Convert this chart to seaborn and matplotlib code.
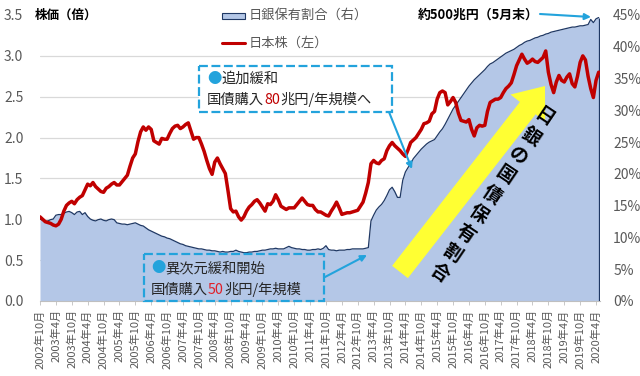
import numpy as np
import pandas as pd
import matplotlib
matplotlib.use("Agg")
import matplotlib.pyplot as plt
from matplotlib.patches import FancyArrow, Rectangle
from matplotlib.lines import Line2D
import seaborn as sns

# ---------------- data (monthly, 2002-10 .. 2020-05) ----------------
start_year, start_month = 2002, 10

stock_index = [  # 日本株 (左, 倍)
    1.03, 1.00, 0.97, 0.96, 0.95, 0.93, 0.92, 0.94, 1.00, 1.10, 1.17, 1.20,
    1.22, 1.19, 1.24, 1.27, 1.29, 1.36, 1.43, 1.41, 1.45, 1.40, 1.37, 1.34,
    1.33, 1.38, 1.40, 1.43, 1.45, 1.42, 1.42, 1.46, 1.50, 1.54, 1.65, 1.75,
    1.80, 1.95, 2.07, 2.13, 2.09, 2.13, 2.10, 1.96, 1.94, 1.92, 1.99, 1.98,
    1.98, 2.05, 2.11, 2.14, 2.15, 2.11, 2.13, 2.16, 2.18, 2.08, 1.98, 2.00,
    2.00, 1.92, 1.83, 1.72, 1.62, 1.55, 1.70, 1.75, 1.68, 1.62, 1.56, 1.35,
    1.13, 1.09, 1.10, 1.03, 0.99, 1.03, 1.10, 1.15, 1.18, 1.22, 1.24, 1.20,
    1.15, 1.10, 1.19, 1.18, 1.22, 1.30, 1.24, 1.16, 1.14, 1.12, 1.14, 1.14,
    1.14, 1.18, 1.22, 1.26, 1.22, 1.18, 1.17, 1.17, 1.12, 1.09, 1.09, 1.07,
    1.05, 1.04, 1.10, 1.15, 1.21, 1.14, 1.06, 1.07, 1.08, 1.08, 1.09, 1.10,
    1.11, 1.16, 1.21, 1.32, 1.45, 1.68, 1.72, 1.69, 1.68, 1.72, 1.74, 1.84,
    1.90, 1.94, 1.90, 1.87, 1.84, 1.80, 1.77, 1.85, 1.94, 1.97, 2.00, 2.05,
    2.10, 2.17, 2.18, 2.20, 2.29, 2.32, 2.47, 2.55, 2.57, 2.55, 2.40, 2.44,
    2.49, 2.43, 2.30, 2.21, 2.20, 2.19, 2.22, 2.10, 2.02, 2.12, 2.15, 2.14,
    2.15, 2.32, 2.43, 2.45, 2.47, 2.47, 2.49, 2.55, 2.60, 2.63, 2.67, 2.77,
    2.88, 2.95, 3.02, 2.96, 2.91, 2.93, 2.96, 2.93, 2.92, 2.95, 2.98, 3.06,
    2.80, 2.65, 2.55, 2.68, 2.76, 2.70, 2.68, 2.74, 2.78, 2.66, 2.62, 2.75,
    2.92, 3.00, 2.95, 2.75, 2.60, 2.49, 2.70, 2.80,
]

boj_share = [  # 日銀保有割合 (右, %)
    12.9, 12.7, 12.5, 12.6, 12.8, 12.9, 13.5, 13.6, 13.6, 13.8, 14.0, 14.1,
    13.9, 13.6, 14.0, 14.1, 13.6, 13.9, 13.3, 12.9, 12.7, 12.6, 12.8, 12.9,
    12.7, 12.6, 12.8, 12.9, 12.8, 12.3, 12.2, 12.1, 12.1, 12.0, 12.1, 12.2,
    12.3, 12.1, 11.9, 11.8, 11.5, 11.2, 11.0, 10.8, 10.6, 10.4, 10.2, 10.1,
    9.9, 9.8, 9.6, 9.4, 9.2, 9.0, 8.9, 8.7, 8.6, 8.5, 8.4, 8.3,
    8.2, 8.2, 8.1, 8.0, 8.0, 7.9, 7.9, 7.8, 7.7, 7.8, 7.7, 7.7,
    7.8, 7.8, 8.0, 7.8, 7.7, 7.6, 7.6, 7.7, 7.7, 7.8, 7.8, 7.9,
    8.0, 8.0, 8.1, 8.2, 8.2, 8.3, 8.2, 8.2, 8.2, 8.4, 8.6, 8.4,
    8.3, 8.2, 8.2, 8.1, 8.1, 8.0, 8.0, 8.1, 8.1, 8.2, 8.1, 8.3,
    8.7, 8.1, 8.0, 8.0, 7.9, 8.0, 8.0, 8.0, 8.1, 8.1, 8.2, 8.2,
    8.2, 8.2, 8.2, 8.3, 8.4, 12.6, 13.5, 14.3, 14.8, 15.2, 15.8, 16.6,
    17.5, 17.9, 17.2, 16.3, 16.3, 19.0, 20.3, 21.0, 21.6, 22.4, 22.9, 23.4,
    23.9, 24.3, 24.7, 25.0, 25.2, 25.4, 26.0, 26.6, 27.1, 27.8, 28.6, 29.4,
    30.2, 30.8, 31.4, 32.0, 32.6, 33.2, 33.8, 34.3, 34.8, 35.2, 35.6, 36.0,
    36.4, 36.9, 37.3, 37.5, 37.8, 38.1, 38.4, 38.7, 39.0, 39.2, 39.4, 39.6,
    39.9, 40.2, 40.4, 40.7, 40.9, 41.0, 41.2, 41.4, 41.5, 41.7, 41.8, 42.0,
    42.1, 42.3, 42.4, 42.5, 42.6, 42.7, 42.8, 42.9, 43.0, 43.1, 43.1, 43.2,
    43.3, 43.3, 43.4, 43.5, 44.3, 43.8, 44.4, 44.6,
]

left_ticks = [0.0, 0.5, 1.0, 1.5, 2.0, 2.5, 3.0, 3.5]
right_ticks = [0, 5, 10, 15, 20, 25, 30, 35, 40, 45]

n = len(stock_index)
months = np.arange(n)
df = pd.DataFrame({"m": months, "stock": stock_index, "share": boj_share})

tick_pos = list(range(0, n, 6))
tick_labels = []
for p in tick_pos:
    tot = start_month - 1 + p
    tick_labels.append(f"{start_year + tot // 12}年{tot % 12 + 1}月")

# ---------------- styling ----------------
sns.set_theme(style="white")
plt.rcParams["font.family"] = ["Noto Sans CJK JP", "DejaVu Sans"]

W, H = 640, 376
fig = plt.figure(figsize=(W / 100, H / 100), dpi=100)
fig.patch.set_facecolor("white")

L, R, T, B = 40, 600, 11, 301
px_per_unit = (B - 15) / 3.5
ymax_left = (B - T) / px_per_unit
ymax_right = ymax_left / 3.5 * 45

ax = fig.add_axes([L / W, 1 - B / H, (R - L) / W, (B - T) / H])
ax2 = ax.twinx()
ax.set_zorder(2)
ax.patch.set_visible(False)
ax2.set_zorder(1)

AREA_FILL = "#b4c7e7"
AREA_EDGE = "#1f3864"
RED = "#c00000"
BLUE = "#23a3dc"
GREY = "#595959"

# area (right axis)
ax2.fill_between(df["m"], 0, df["share"], color=AREA_FILL, lw=0, zorder=2)
sns.lineplot(data=df, x="m", y="share", ax=ax2, color=AREA_EDGE, lw=0.9, zorder=3)
ax2.vlines(df["m"].iloc[-1], 0, df["share"].iloc[-1], color=AREA_EDGE, lw=0.9, zorder=3)

# stock line (left axis)
sns.lineplot(data=df, x="m", y="stock", ax=ax, color=RED, lw=2.5, zorder=4)

ax.set_xlim(0, n - 0.5)
ax.set_ylim(0, ymax_left)
ax2.set_ylim(0, ymax_right)
ax.set_xlabel("")
ax.set_ylabel("")
ax2.set_ylabel("")

ax.set_yticks(left_ticks)
ax.set_yticklabels([f"{v:.1f}" for v in left_ticks])
ax.tick_params(axis="y", length=0, pad=12, labelsize=10, labelcolor=GREY)

ax2.set_yticks(right_ticks)
ax2.set_yticklabels([f"{v}%" for v in right_ticks])
ax2.tick_params(axis="y", which="major", length=0, pad=9.5, labelsize=10, labelcolor=GREY)
ax2.set_yticks([v / 3.5 * 45 for v in left_ticks], minor=True)
ax2.tick_params(axis="y", which="minor", length=0)
ax2.yaxis.grid(True, which="minor", color="#d9d9d9", lw=0.9)
ax2.yaxis.grid(False, which="major")
ax2.set_axisbelow(True)

ax.set_xticks(tick_pos)
ax.set_xticklabels(tick_labels, rotation=90)
ax.tick_params(axis="x", length=3, width=0.6, color="#bfbfbf", pad=3,
               labelsize=8, labelcolor=GREY, bottom=True)

for a in (ax, ax2):
    for s in a.spines.values():
        s.set_visible(False)
ax.spines["bottom"].set_visible(True)
ax.spines["bottom"].set_color("#bfbfbf")
ax.spines["bottom"].set_linewidth(0.8)

# ---------------- overlay (pixel coordinates) ----------------
ov = fig.add_axes([0, 0, 1, 1], zorder=10)
ov.set_xlim(0, W)
ov.set_ylim(H, 0)
ov.axis("off")
ov.patch.set_visible(False)

# y-axis title
ov.text(35, 15, "株価（倍）", fontsize=9, fontweight="bold", color="black",
        ha="left", va="center",
        bbox=dict(boxstyle="square,pad=0.15", fc="white", ec="none"))

# legend
ov.add_patch(Rectangle((216, 6), 152, 18, fc="white", ec="none", zorder=1))
ov.add_patch(Rectangle((222, 12.5), 23, 6, fc=AREA_FILL, ec=AREA_EDGE, lw=0.8, zorder=2))
ov.text(249, 15, "日銀保有割合（右）", fontsize=9.5, color=GREY, ha="left", va="center", zorder=3)
ov.add_line(Line2D([222, 245], [43, 43], color=RED, lw=2.2, zorder=2))
ov.text(249, 43, "日本株（左）", fontsize=9.5, color=GREY, ha="left", va="center", zorder=3)

# 約500兆円
ov.text(418, 15, "約500兆円（5月末）", fontsize=9.3, fontweight="bold", color="black",
        ha="left", va="center",
        bbox=dict(boxstyle="square,pad=0.15", fc="white", ec="none"))
ov.annotate("", xy=(591, 17), xytext=(540, 14),
            arrowprops=dict(arrowstyle="-|>", color=BLUE, lw=1.5,
                            mutation_scale=9, shrinkA=0, shrinkB=0))


def rich_text(x, y, parts, size=10):
    t = ov.text(x, y, parts[0][0], color=parts[0][1], fontsize=size,
                ha="left", va="center", zorder=5)
    for s, c in parts[1:]:
        t = ov.annotate(s, xy=(1, 0), xycoords=t, va="bottom", ha="left",
                        color=c, fontsize=size, zorder=5, annotation_clip=False)
    return t


# box 1 (異次元緩和開始)
ov.add_patch(Rectangle((144, 254), 180, 46.5, fc="none", ec=BLUE, lw=1.6,
                       ls=(0, (4, 1.6)), zorder=4))
rich_text(151, 268, [("●", BLUE), ("異次元緩和開始", "#262626")], size=10.3)
rich_text(151, 290, [("国債購入", "#262626"), ("50", "#e0202a"), ("兆円/年規模", "#262626")], size=10.3)
ov.annotate("", xy=(367, 255), xytext=(325, 277),
            arrowprops=dict(arrowstyle="-|>", color=BLUE, lw=1.5,
                            mutation_scale=9, shrinkA=0, shrinkB=0))

# box 2 (追加緩和)
ov.add_patch(Rectangle((199, 66), 193, 46, fc="white", ec=BLUE, lw=1.6,
                       ls=(0, (4, 1.6)), zorder=4))
rich_text(207, 79, [("●", BLUE), ("追加緩和", "#262626")], size=10.3)
rich_text(207, 100, [("国債購入", "#262626"), ("80", RED), ("兆円/年規模へ", "#262626")], size=10.3)
ov.annotate("", xy=(412, 169), xytext=(389, 112),
            arrowprops=dict(arrowstyle="-|>", color=BLUE, lw=1.5,
                            mutation_scale=9, shrinkA=0, shrinkB=0))

# yellow arrow + rotated text
ov.add_patch(FancyArrow(400, 272, 145, -186, width=20, head_width=44, head_length=28,
                        length_includes_head=True, color="#ffff33", lw=0, zorder=3))
ov.text(492, 195, "\n".join("日銀の国債保有割合"), rotation=-34, ha="center", va="center",
        multialignment="center", linespacing=1.3, fontsize=13.5, fontweight="bold",
        color="black", zorder=6)

fig.savefig("out.png", dpi=100, facecolor="white")
